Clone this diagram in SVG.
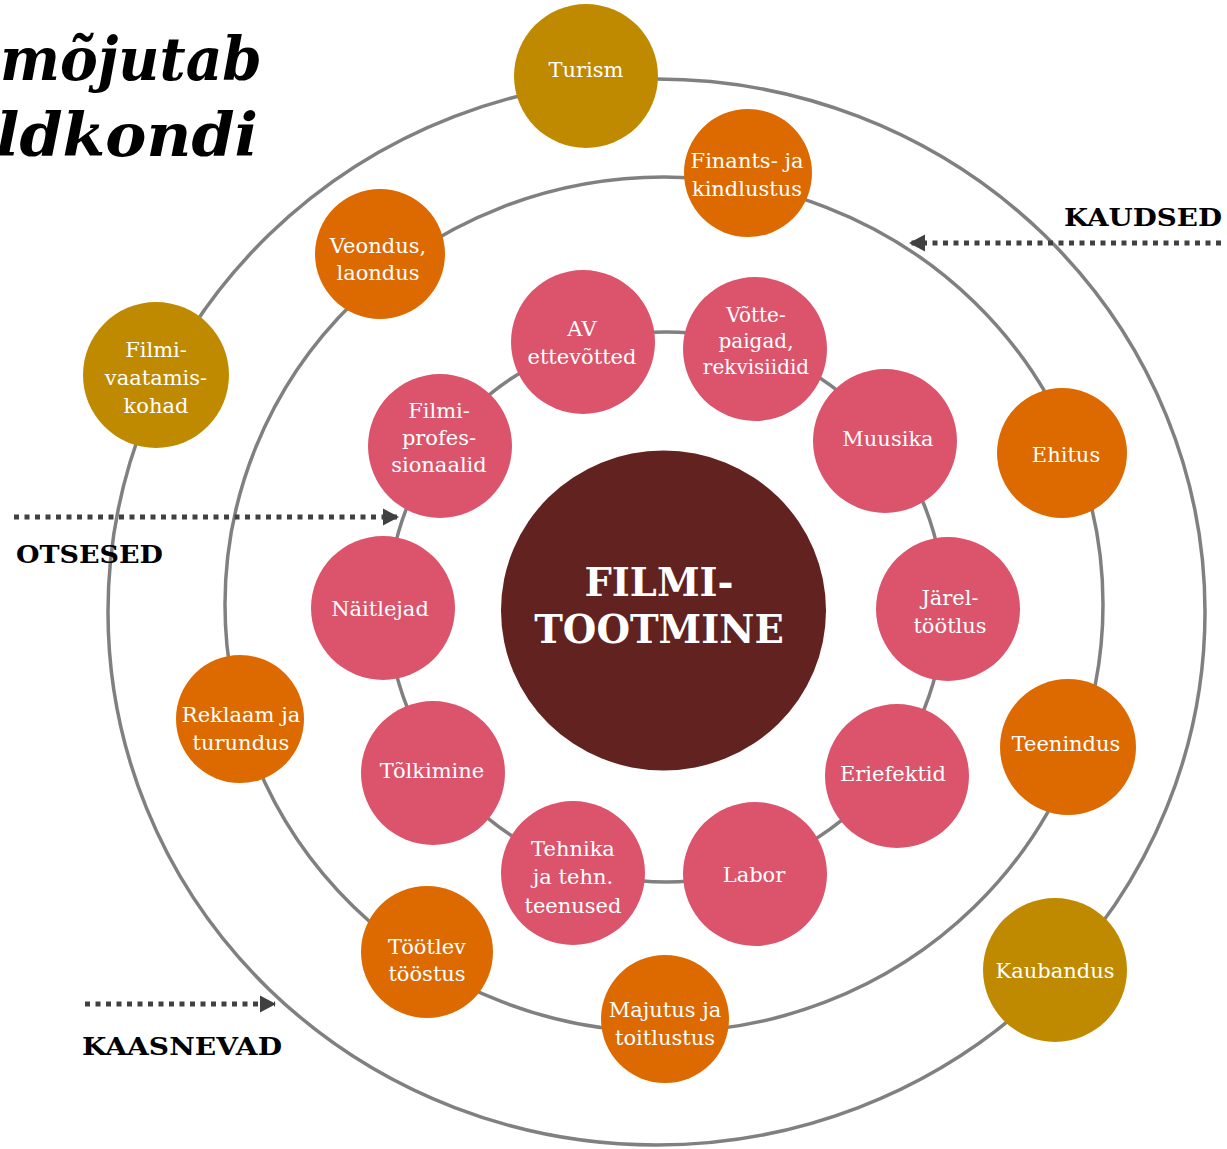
<svg xmlns="http://www.w3.org/2000/svg" width="1227" height="1149" viewBox="0 0 1227 1149">
<style>
.ring{fill:none;stroke:#808080;stroke-width:3.5}
.arr{fill:none;stroke:#404040;stroke-width:5;stroke-dasharray:5 5.5}
.pink{fill:#db546b}
.orange{fill:#dd6a00}
.gold{fill:#c08a00}
.core{fill:#612220}
.lbl{font-family:"DejaVu Serif","Liberation Serif",serif;font-size:21px;fill:#ffffff;text-anchor:middle}
.small{font-size:20px}
.core-t{font-family:"DejaVu Serif","Liberation Serif",serif;font-size:38.5px;font-weight:bold;fill:#ffffff;text-anchor:middle}
.cat{font-family:"DejaVu Serif","Liberation Serif",serif;font-size:25px;font-weight:bold;fill:#000000}
.title{font-family:"DejaVu Serif","Liberation Serif",serif;font-size:60px;font-weight:bold;font-style:italic;fill:#000000}
</style>
<defs>
<marker id="ah" markerWidth="4" markerHeight="4" refX="3" refY="2" orient="auto" markerUnits="strokeWidth">
<path d="M0,0.3 L3.2,2 L0,3.7 Z" fill="#404040"/>
</marker>
</defs>
<rect width="1227" height="1149" fill="#ffffff"/>
<g id="title">
<text class="title" x="0" y="80" textLength="262" lengthAdjust="spacingAndGlyphs">mõjutab</text>
<text class="title" x="-4" y="156" textLength="262" lengthAdjust="spacingAndGlyphs">ldkondi</text>
</g>
<g id="rings">
<ellipse class="ring" cx="656.5" cy="612" rx="548.5" ry="533"/>
<ellipse class="ring" cx="664" cy="604.5" rx="439" ry="427.5"/>
<ellipse class="ring" cx="666" cy="607" rx="278" ry="275"/>
</g>
<g id="connectors">
<line class="arr" x1="1221" y1="243" x2="910" y2="243" marker-end="url(#ah)"/>
<line class="arr" x1="14" y1="517" x2="398" y2="517" marker-end="url(#ah)"/>
<line class="arr" x1="85" y1="1004" x2="275" y2="1004" marker-end="url(#ah)"/>
</g>
<g id="labels">
<text class="cat" x="1064" y="226" textLength="158" lengthAdjust="spacingAndGlyphs">KAUDSED</text>
<text class="cat" x="16" y="563" textLength="147" lengthAdjust="spacingAndGlyphs">OTSESED</text>
<text class="cat" x="82" y="1055" textLength="200" lengthAdjust="spacingAndGlyphs">KAASNEVAD</text>
</g>
<g id="node-core">
<ellipse class="core" cx="663.5" cy="610.5" rx="162.5" ry="160"/>
<text class="core-t" x="659" y="596">FILMI-</text>
<text class="core-t" x="659" y="643">TOOTMINE</text>
</g>
<g id="node-turism"><circle class="gold" cx="586" cy="76" r="72"/><text class="lbl" x="586" y="77">Turism</text></g>
<g id="node-filmivaatamiskohad"><circle class="gold" cx="156" cy="375" r="73"/><text class="lbl" x="156" y="357">Filmi-</text><text class="lbl" x="156" y="385">vaatamis-</text><text class="lbl" x="156" y="413">kohad</text></g>
<g id="node-kaubandus"><circle class="gold" cx="1055" cy="970" r="72"/><text class="lbl" x="1055" y="978">Kaubandus</text></g>
<g id="node-finants"><circle class="orange" cx="748" cy="173" r="64"/><text class="lbl" x="747" y="168">Finants- ja</text><text class="lbl" x="747" y="196">kindlustus</text></g>
<g id="node-veondus"><circle class="orange" cx="380" cy="254" r="65"/><text class="lbl" x="378" y="253">Veondus,</text><text class="lbl" x="378" y="280">laondus</text></g>
<g id="node-ehitus"><circle class="orange" cx="1062" cy="453" r="65"/><text class="lbl" x="1066" y="462">Ehitus</text></g>
<g id="node-reklaam"><circle class="orange" cx="240" cy="719" r="64"/><text class="lbl" x="241" y="722">Reklaam ja</text><text class="lbl" x="241" y="750">turundus</text></g>
<g id="node-teenindus"><circle class="orange" cx="1068" cy="747" r="68"/><text class="lbl" x="1066" y="751">Teenindus</text></g>
<g id="node-tootlev"><circle class="orange" cx="427" cy="952" r="66"/><text class="lbl" x="427" y="954">Töötlev</text><text class="lbl" x="427" y="981">tööstus</text></g>
<g id="node-majutus"><circle class="orange" cx="665" cy="1019" r="64"/><text class="lbl" x="665" y="1017">Majutus ja</text><text class="lbl" x="665" y="1045">toitlustus</text></g>
<g id="node-av"><circle class="pink" cx="583" cy="342" r="72"/><text class="lbl" x="582" y="336">AV</text><text class="lbl" x="582" y="364">ettevõtted</text></g>
<g id="node-votte"><circle class="pink" cx="755" cy="349" r="72"/><text class="lbl small" x="756" y="322">Võtte-</text><text class="lbl small" x="756" y="348">paigad,</text><text class="lbl small" x="756" y="374">rekvisiidid</text></g>
<g id="node-muusika"><circle class="pink" cx="885" cy="441" r="72"/><text class="lbl" x="888" y="446">Muusika</text></g>
<g id="node-jarel"><circle class="pink" cx="948" cy="609" r="72"/><text class="lbl" x="950" y="605">Järel-</text><text class="lbl" x="950" y="633">töötlus</text></g>
<g id="node-eriefektid"><circle class="pink" cx="897" cy="776" r="72"/><text class="lbl" x="893" y="781">Eriefektid</text></g>
<g id="node-labor"><circle class="pink" cx="755" cy="874" r="72"/><text class="lbl" x="754" y="882">Labor</text></g>
<g id="node-tehnika"><circle class="pink" cx="573" cy="873" r="72"/><text class="lbl" x="573" y="856">Tehnika</text><text class="lbl" x="573" y="884">ja tehn.</text><text class="lbl" x="573" y="913">teenused</text></g>
<g id="node-tolkimine"><circle class="pink" cx="433" cy="773" r="72"/><text class="lbl" x="432" y="778">Tõlkimine</text></g>
<g id="node-naitlejad"><circle class="pink" cx="383" cy="608" r="72"/><text class="lbl" x="380" y="616">Näitlejad</text></g>
<g id="node-filmiprof"><circle class="pink" cx="440" cy="446" r="72"/><text class="lbl" x="439" y="418">Filmi-</text><text class="lbl" x="439" y="445">profes-</text><text class="lbl" x="439" y="472">sionaalid</text></g>
</svg>
